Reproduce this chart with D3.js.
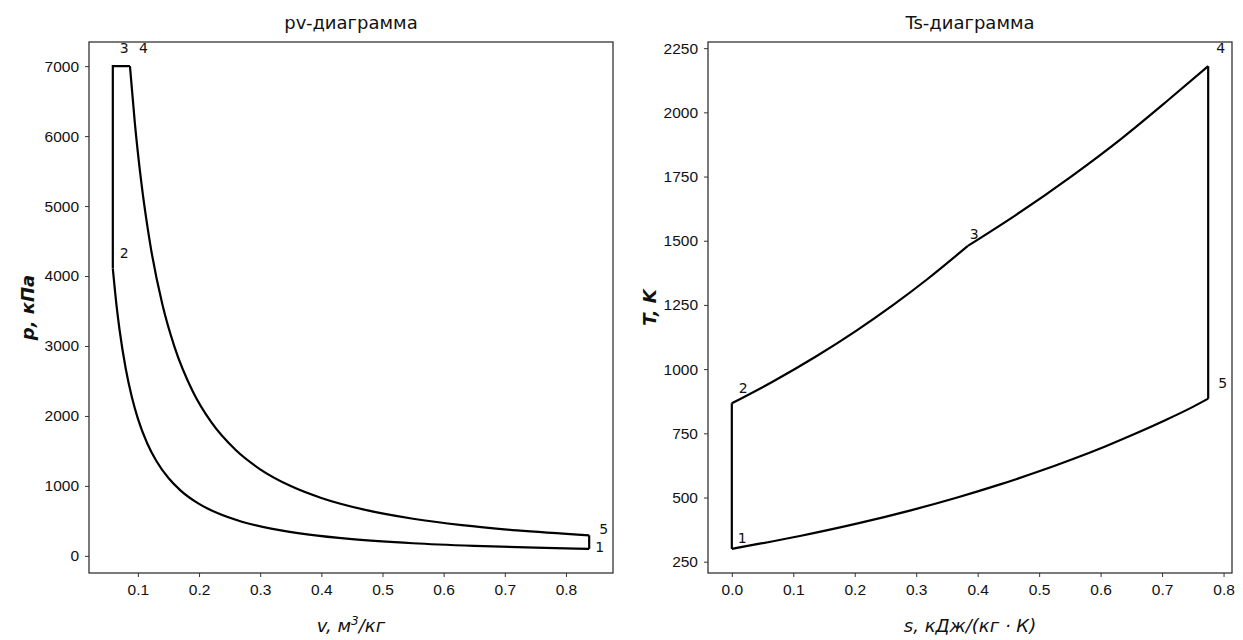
<!DOCTYPE html>
<html>
<head>
<meta charset="utf-8">
<script src="https://cdn.jsdelivr.net/npm/d3@7"></script>
<style>
  body { margin: 0; background: #fff; }
  svg { display: block; font-family: "DejaVu Sans", sans-serif; }
  .axis text { font-size: 15.5px; fill: #111; }
  .axis path, .axis line { stroke: #333; }
  .title { font-size: 18px; fill: #111; }
  .axis-label { font-size: 18px; font-style: italic; fill: #111; }
  .point-label { font-size: 14px; fill: #111; }
  .cycle { fill: none; stroke: #000; stroke-width: 2.2; }
</style>
</head>
<body>
<div id="chart"></div>
<script>
// pv: compression 1 -> 2
const compressionV = [0.059, 0.065, 0.07, 0.08, 0.09, 0.1, 0.115, 0.13, 0.15, 0.17, 0.2, 0.23, 0.27, 0.32, 0.38, 0.45, 0.55, 0.65, 0.75, 0.838];
const compressionP = [4106, 3585, 3232, 2681, 2273, 1961, 1613, 1359, 1112, 933, 743, 611, 488, 385, 303, 239, 180, 143, 117, 100];
// pv: expansion 4 -> 5
const expansionV = [0.087, 0.095, 0.105, 0.12, 0.14, 0.16, 0.19, 0.22, 0.26, 0.3, 0.35, 0.4, 0.47, 0.55, 0.63, 0.72, 0.838];
const expansionP = [7000, 6189, 5380, 4462, 3596, 2983, 2345, 1910, 1512, 1237, 997, 827, 660, 530, 438, 363, 294];
// pv state points 1..5
const stateNames = ["1", "2", "3", "4", "5"];
const stateV = [0.838, 0.059, 0.059, 0.087, 0.838];
const stateP = [100, 4106, 7000, 7000, 294];

// Ts: 2 -> 3 (v = const)
const heatVS = [0, 0.0656, 0.1375, 0.2028, 0.2627, 0.3179, 0.384];
const heatVT = [867, 950, 1050, 1150, 1250, 1350, 1480];
// Ts: 3 -> 4 (p = const)
const heatPS = [0.384, 0.462, 0.552, 0.635, 0.711, 0.775];
const heatPT = [1480, 1600, 1750, 1900, 2050, 2180];
// Ts: 5 -> 1 (v = const)
const coolS = [0, 0.1107, 0.2066, 0.2911, 0.3668, 0.4352, 0.4977, 0.5551, 0.6084, 0.6579, 0.7042, 0.7477, 0.775];
const coolT = [300, 350, 400, 450, 500, 550, 600, 650, 700, 750, 800, 850, 885];
const stateS = [0, 0, 0.384, 0.775, 0.775];
const stateT = [300, 867, 1480, 2180, 885];

const pvXTicks = [0.1, 0.2, 0.3, 0.4, 0.5, 0.6, 0.7, 0.8];
const pvYTicks = [0, 1000, 2000, 3000, 4000, 5000, 6000, 7000];
const tsXTicks = [0, 0.1, 0.2, 0.3, 0.4, 0.5, 0.6, 0.7, 0.8];
const tsYTicks = [250, 500, 750, 1000, 1250, 1500, 1750, 2000, 2250];

const width = 1243, height = 640;
const plotTop = 42, plotBottom = 573;

const svg = d3.select("#chart").append("svg")
  .attr("width", width).attr("height", height);

function pad(values) {
  const [lo, hi] = d3.extent(values);
  const m = (hi - lo) * 0.05;
  return [lo - m, hi + m];
}

function panel(opts) {
  const x = d3.scaleLinear().domain(pad(opts.xAll)).range([opts.left, opts.right]);
  const y = d3.scaleLinear().domain(pad(opts.yAll)).range([plotBottom, plotTop]);
  const g = svg.append("g");

  g.append("g").attr("class", "axis")
    .attr("transform", `translate(0,${plotBottom})`)
    .call(d3.axisBottom(x).tickValues(opts.xTicks).tickFormat(d3.format(".1f")).tickSize(4).tickPadding(7).tickSizeOuter(0));
  g.append("g").attr("class", "axis")
    .attr("transform", `translate(${opts.left},0)`)
    .call(d3.axisLeft(y).tickValues(opts.yTicks).tickFormat(d3.format("d")).tickSize(4).tickPadding(6).tickSizeOuter(0));
  g.selectAll(".axis .domain").remove();

  g.append("rect")
    .attr("x", opts.left).attr("y", plotTop)
    .attr("width", opts.right - opts.left).attr("height", plotBottom - plotTop)
    .attr("fill", "none").attr("stroke", "#333").attr("stroke-width", 1.3);

  const line = d3.line().x((d) => x(d[0])).y((d) => y(d[1]));
  const smooth = d3.line().x((d) => x(d[0])).y((d) => y(d[1])).curve(d3.curveMonotoneX);

  opts.curves.forEach((c) => {
    g.append("path").attr("class", "cycle")
      .attr("d", smooth(d3.zip(c[0], c[1])));
  });
  opts.straight.forEach((seg) => {
    g.append("path").attr("class", "cycle")
      .attr("d", line(seg));
  });

  g.selectAll(".point-label")
    .data(stateNames)
    .join("text")
    .attr("class", "point-label")
    .attr("x", (d, i) => x(opts.sx[i]) + opts.offsets[i][0])
    .attr("y", (d, i) => y(opts.sy[i]) + opts.offsets[i][1])
    .text((d) => d);

  const mid = (opts.left + opts.right) / 2;
  svg.append("text").attr("class", "title")
    .attr("x", mid).attr("y", 29).attr("text-anchor", "middle")
    .text(opts.title);
  svg.append("text").attr("class", "axis-label")
    .attr("x", mid).attr("y", 632).attr("text-anchor", "middle")
    .html(opts.xLabel);
  svg.append("text").attr("class", "axis-label")
    .attr("transform", `translate(${opts.yLabelX},${(plotTop + plotBottom) / 2}) rotate(-90)`)
    .attr("text-anchor", "middle")
    .attr("font-weight", 600)
    .text(opts.yLabel);
}

panel({
  left: 89, right: 613,
  xAll: stateV, yAll: stateP,
  xTicks: pvXTicks, yTicks: pvYTicks,
  curves: [[compressionV, compressionP], [expansionV, expansionP]],
  straight: [
    [[stateV[1], stateP[1]], [stateV[2], stateP[2]], [stateV[3], stateP[3]]],
    [[stateV[4], stateP[4]], [stateV[0], stateP[0]]]
  ],
  sx: stateV, sy: stateP,
  offsets: [[6, 3], [7, -11], [7, -13], [9, -13], [10, -1]],
  title: "pv-диаграмма",
  xLabel: 'v, м<tspan baseline-shift="super" font-size="12">3</tspan>/кг',
  yLabel: "p, кПа", yLabelX: 34
});

panel({
  left: 708, right: 1232,
  xAll: stateS, yAll: stateT,
  xTicks: tsXTicks, yTicks: tsYTicks,
  curves: [[heatVS, heatVT], [heatPS, heatPT], [coolS, coolT]],
  straight: [
    [[stateS[0], stateT[0]], [stateS[1], stateT[1]]],
    [[stateS[3], stateT[3]], [stateS[4], stateT[4]]]
  ],
  sx: stateS, sy: stateT,
  offsets: [[6, -6], [7, -10], [2, -7], [8, -13], [10, -11]],
  title: "Ts-диаграмма",
  xLabel: "s, кДж/(кг · К)",
  yLabel: "T, K", yLabelX: 656
});
</script>
</body>
</html>
